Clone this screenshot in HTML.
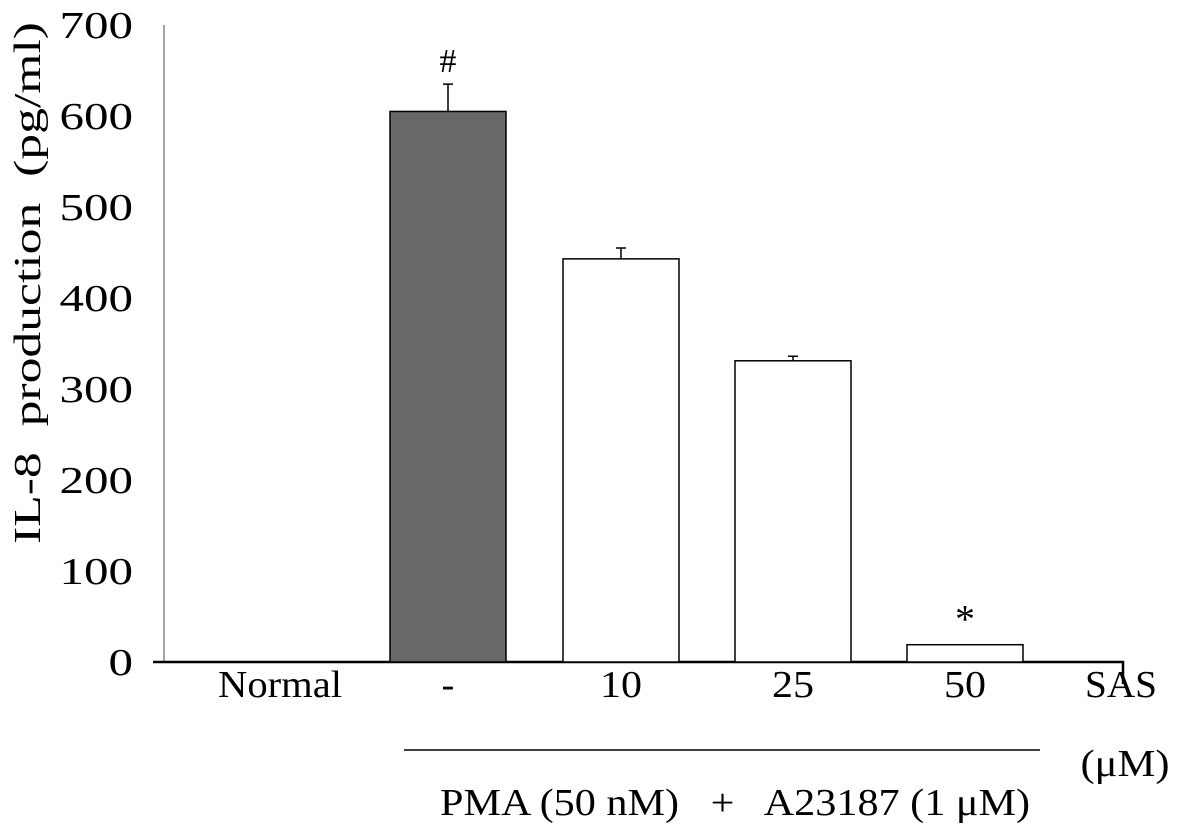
<!DOCTYPE html>
<html><head><meta charset="utf-8"><style>
body{margin:0;background:#fff}
svg text{font-family:"Liberation Serif",serif;fill:#000;white-space:pre}
</style></head><body>
<svg width="1181" height="834" viewBox="0 0 1181 834">
<g id="axes"></g>
<g id="bars"></g>
<text x="40" y="283" font-size="38" text-anchor="middle" textLength="522" lengthAdjust="spacingAndGlyphs" transform="rotate(-90 40 283)">IL-8  production  (pg/ml)</text>
<text x="1121" y="697" font-size="38" text-anchor="middle" textLength="72" lengthAdjust="spacingAndGlyphs">SAS</text>
<text x="1125" y="776" font-size="38" text-anchor="middle" textLength="89" lengthAdjust="spacingAndGlyphs">(μM)</text>
<line x1="404" y1="750" x2="1040" y2="750" stroke="#000" stroke-width="1.5"/>
<text x="735" y="815" font-size="38" text-anchor="middle" textLength="590" lengthAdjust="spacingAndGlyphs">PMA (50 nM)   +   A23187 (1 μM)</text>
</svg>
<script>
const categories=["Normal","-","10","25","50"];
const values=[0,605,443,331,19];
const errors=[0,30,12,5,0];
const marks=["","#","","","*"];
const yTicks=[0,100,200,300,400,500,600,700];
const NS="http://www.w3.org/2000/svg";
const y0=662, pxPer=0.91;
function y(v){return y0-v*pxPer;}
const centers=[277,448,621,793,965];
const bw=116;
function mk(t,a,p){const e=document.createElementNS(NS,t);for(const k in a)e.setAttribute(k,a[k]);p.appendChild(e);return e;}
const ax=document.getElementById('axes'),bg=document.getElementById('bars');
let yl=mk('line',{x1:164,y1:y(700),x2:164,y2:y0,stroke:'#888','stroke-width':1.5},ax);


yTicks.forEach(t=>{
 const s=String(t);
 const tx=mk('text',{x:133,y:y(t)+13,'font-size':38,'text-anchor':'end',textLength:s.length*24.5,lengthAdjust:'spacingAndGlyphs'},ax);tx.textContent=s;
 
 
});
categories.forEach((c,i)=>{
 const cx=centers[i],v=values[i];
 if(v>0){
  const r=mk('rect',{x:cx-bw/2,y:y(v),width:bw,height:y0-y(v),fill:i==1?'#686868':'#fff',stroke:'#000','stroke-width':1.5},bg);
  
  
 }
 if(errors[i]>0){
  const e=mk('path',{d:`M${cx} ${y(v)}V${y(v+errors[i])}M${cx-5} ${y(v+errors[i])}H${cx+5}`,stroke:'#000','stroke-width':1.5,fill:'none'},bg);
  
  
 }
 if(marks[i]){
  const m=mk('text',{x:cx,y:y(v+errors[i])-12,'font-size':i==4?40:34,'text-anchor':'middle'},bg);m.textContent=marks[i];
  
  
 }
 const a={x:cx+(i==0?3:0),y:y0+35,'font-size':38,'text-anchor':'middle'};
 if(c.length>1){a.textLength=i==0?124:42;a.lengthAdjust='spacingAndGlyphs';}
 const l=mk('text',a,bg);l.textContent=c;
 
 
});
const xl=mk('path',{d:`M153 ${y0}H1123V${y0+22}`,stroke:'#000','stroke-width':2.5,fill:'none'},ax);


</script>
</body></html>
